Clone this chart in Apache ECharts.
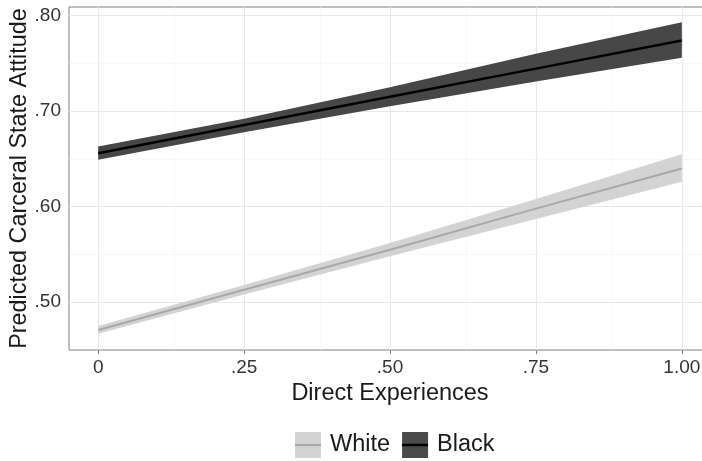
<!DOCTYPE html>
<html><head><meta charset="utf-8">
<script src="https://cdn.jsdelivr.net/npm/echarts@6/dist/echarts.min.js"></script>
<style>html,body{margin:0;padding:0;background:#fff}#c{width:702px;height:461px}</style>
</head><body><div id="c"></div>
<script>
// Data
var xVals = [0, 0.25, 0.5, 0.75, 1.0];
var whiteFit = [0.471, 0.513, 0.555, 0.598, 0.640];
var whiteLow = [0.467, 0.508, 0.548, 0.587, 0.626];
var whiteHigh = [0.475, 0.518, 0.562, 0.608, 0.655];
var blackFit = [0.656, 0.6855, 0.715, 0.7445, 0.774];
var blackLow = [0.649, 0.678, 0.705, 0.731, 0.756];
var blackHigh = [0.663, 0.692, 0.725, 0.760, 0.793];
var xTicks = [0, 0.25, 0.5, 0.75, 1.0];
var xTickLabels = ['0', '.25', '.50', '.75', '1.00'];
var xMinor = [0.125, 0.375, 0.625, 0.875];
var yTicks = [0.5, 0.6, 0.7, 0.8];
var yTickLabels = ['.50', '.60', '.70', '.80'];
var yMinor = [0.55, 0.65, 0.75];
var legendNames = ['White', 'Black'];

function pairs(xs, ys) { return xs.map(function (x, i) { return [x, ys[i]]; }); }

var FONT = 'Liberation Sans, Arial, Helvetica, sans-serif';
var chart = echarts.init(document.getElementById('c'), null, { renderer: 'canvas' });

var gridMarks = [];
xTicks.forEach(function (v) { gridMarks.push({ xAxis: v, lineStyle: { color: '#e8e8e8', width: 1.1, type: 'solid' } }); });
xMinor.forEach(function (v) { gridMarks.push({ xAxis: v, lineStyle: { color: '#f1f1f1', width: 0.6, type: 'solid' } }); });
yTicks.forEach(function (v) { gridMarks.push({ yAxis: v, lineStyle: { color: '#e8e8e8', width: 1.1, type: 'solid' } }); });
yMinor.forEach(function (v) { gridMarks.push({ yAxis: v, lineStyle: { color: '#f1f1f1', width: 0.6, type: 'solid' } }); });

function labelFor(ticks, labels) {
  return function (v) {
    for (var i = 0; i < ticks.length; i++) if (Math.abs(ticks[i] - v) < 1e-6) return labels[i];
    return '';
  };
}

function bandRenderer(xs, lo, hi, color) {
  return function (params, api) {
    if (params.dataIndex !== 0) return null;
    var pts = [];
    for (var i = 0; i < xs.length; i++) pts.push(api.coord([xs[i], hi[i]]));
    for (var j = xs.length - 1; j >= 0; j--) pts.push(api.coord([xs[j], lo[j]]));
    return { type: 'polygon', shape: { points: pts }, style: { fill: color, stroke: null } };
  };
}

var option = {
  animation: false,
  backgroundColor: '#fff',
  grid: { left: 69, top: 7, right: -9, bottom: 111, outerBoundsMode: 'none', containLabel: false,
          show: true, borderColor: '#7f7f7f', borderWidth: 1, backgroundColor: 'transparent' },
  xAxis: {
    type: 'value', min: -0.05, max: 1.05,
    name: 'Direct Experiences', nameLocation: 'middle', nameGap: 32, nameMoveOverlap: false,
    nameTextStyle: { fontFamily: FONT, fontSize: 23.5, color: '#1a1a1a', verticalAlign: 'top' },
    axisLine: { show: false },
    axisTick: { show: true, length: 4, lineStyle: { color: '#7f7f7f' }, customValues: xTicks },
    axisLabel: { customValues: xTicks, formatter: labelFor(xTicks, xTickLabels), fontFamily: FONT, fontSize: 19, color: '#333', margin: 8 },
    splitLine: { show: false }
  },
  yAxis: {
    type: 'value', min: 0.45, max: 0.809,
    name: 'Predicted Carceral State Attitude', nameLocation: 'middle', nameGap: 38, nameRotate: 90, nameMoveOverlap: false,
    nameTextStyle: { fontFamily: FONT, fontSize: 23.4, color: '#1a1a1a' },
    axisLine: { show: false },
    axisTick: { show: true, length: 4, lineStyle: { color: '#7f7f7f' }, customValues: yTicks },
    axisLabel: { customValues: yTicks, formatter: labelFor(yTicks, yTickLabels), fontFamily: FONT, fontSize: 19, color: '#333', margin: 8 },
    splitLine: { show: false }
  },
  legend: {
    data: [
      { name: legendNames[0], itemStyle: { color: '#d3d3d3' } },
      { name: legendNames[1], itemStyle: { color: '#4a4a4a' } }
    ],
    icon: 'rect', left: 295, top: 432, padding: 0, itemWidth: 26, itemHeight: 26, itemGap: 12,
    textStyle: { fontFamily: FONT, fontSize: 23.5, color: '#1a1a1a', padding: [0, 0, 0, 4] },
    selectedMode: false
  },
  series: [
    { name: 'grid', type: 'line', data: pairs(xVals, whiteLow), z: 1, silent: true, symbol: 'none',
      lineStyle: { opacity: 0 },
      markLine: { silent: true, symbol: 'none', z: 1, label: { show: false }, data: gridMarks, animation: false } },
    { name: 'White', type: 'custom', data: pairs(xVals, whiteHigh), renderItem: bandRenderer(xVals, whiteLow, whiteHigh, '#d3d3d3'),
      itemStyle: { color: '#d3d3d3' }, z: 8, silent: true },
    { name: 'Black', type: 'custom', data: pairs(xVals, blackHigh), renderItem: bandRenderer(xVals, blackLow, blackHigh, '#474747'),
      itemStyle: { color: '#4a4a4a' }, z: 8, silent: true },
    { name: 'White fit', type: 'line', data: pairs(xVals, whiteFit), symbol: 'none', lineStyle: { color: '#a8a8a8', width: 2 }, z: 9, silent: true },
    { name: 'Black fit', type: 'line', data: pairs(xVals, blackFit), symbol: 'none', lineStyle: { color: '#000', width: 2.5 }, z: 9, silent: true }
  ],
  graphic: [
    { type: 'line', shape: { x1: 295, y1: 445, x2: 321, y2: 445 }, style: { stroke: '#a8a8a8', lineWidth: 2 }, z: 100 },
    { type: 'line', shape: { x1: 402, y1: 445, x2: 428, y2: 445 }, style: { stroke: '#000', lineWidth: 2.5 }, z: 100 }
  ]
};
chart.setOption(option);
</script></body></html>
